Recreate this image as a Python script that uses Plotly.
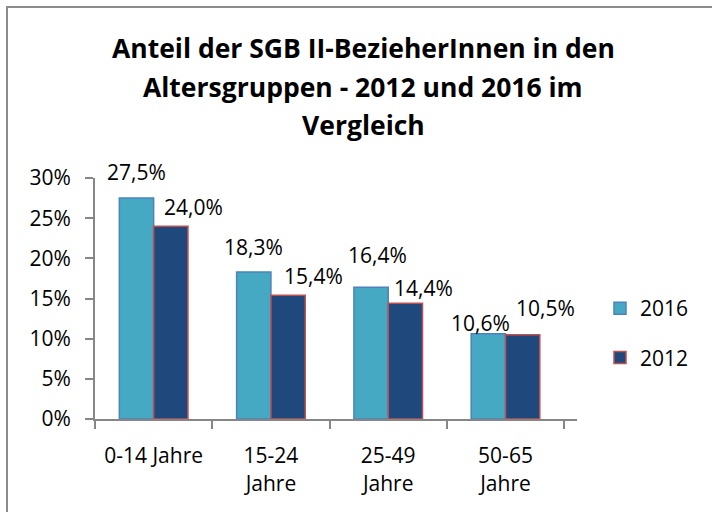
import plotly.graph_objects as go

categories = ["0-14 Jahre", "15-24<br>Jahre", "25-49<br>Jahre", "50-65<br>Jahre"]
values_2016 = [0.275, 0.183, 0.164, 0.106]
values_2012 = [0.240, 0.154, 0.144, 0.105]
labels_2016 = ["27,5%", "18,3%", "16,4%", "10,6%"]
labels_2012 = ["24,0%", "15,4%", "14,4%", "10,5%"]
y_ticks = [0, 0.05, 0.10, 0.15, 0.20, 0.25, 0.30]
y_ticktext = ["0%", "5%", "10%", "15%", "20%", "25%", "30%"]
title_lines = ["Anteil der SGB II-BezieherInnen in den",
               "Altersgruppen - 2012 und 2016 im",
               "Vergleich"]

# label offsets (pixels) relative to the category centre / bar top
xshift_2016 = [-17, -17, -11, -25]
yshift_2016 = [26, 25, 32, 11]
xshift_2012 = [40, 43, 35, 40]
yshift_2012 = [19, 19, 15, 27]

FONT = "Open Sans"
FS = 21
W, H = 712, 512
ML, MR, MT, MB = 95, 135, 178, 93

fig = go.Figure()
fig.add_trace(go.Bar(
    x=categories, y=values_2016, name="2016",
    marker=dict(color="#45A9C3", line=dict(color="#4F81BD", width=1.5)),
    legendgroup="a",
))
fig.add_trace(go.Bar(
    x=categories, y=values_2012, name="2012",
    marker=dict(color="#1F497D", line=dict(color="#C0504D", width=1.5)),
    legendgroup="b",
))

for i, c in enumerate(categories):
    fig.add_annotation(x=c, y=values_2016[i], text=labels_2016[i], showarrow=False,
                       xshift=xshift_2016[i], yshift=yshift_2016[i],
                       yanchor="middle", xanchor="center",
                       font=dict(family=FONT, size=FS, color="black"))
    fig.add_annotation(x=c, y=values_2012[i], text=labels_2012[i], showarrow=False,
                       xshift=xshift_2012[i], yshift=yshift_2012[i],
                       yanchor="middle", xanchor="center",
                       font=dict(family=FONT, size=FS, color="black"))

pw = W - ML - MR
ph = H - MT - MB
def px_x(p):
    return (p - ML) / pw
def px_y(p):
    return (H - MB - p) / ph

# title lines
title_y = [48, 87, 125]
for line, ty in zip(title_lines, title_y):
    fig.add_annotation(xref="paper", yref="paper", x=px_x(363), y=px_y(ty),
                       text="<b>" + line + "</b>", showarrow=False,
                       xanchor="center", yanchor="middle",
                       font=dict(family=FONT, size=26.5, color="black"))

# outer chart border (left and top visible)
fig.add_shape(type="line", xref="paper", yref="paper",
              x0=px_x(7), x1=px_x(7), y0=px_y(6), y1=px_y(520),
              line=dict(color="#8C8C8C", width=2))
fig.add_shape(type="line", xref="paper", yref="paper",
              x0=px_x(6), x1=px_x(720), y0=px_y(7), y1=px_y(7),
              line=dict(color="#8C8C8C", width=2))

fig.update_layout(
    width=W, height=H,
    margin=dict(l=ML, r=MR, t=MT, b=MB, autoexpand=False),
    paper_bgcolor="white", plot_bgcolor="white",
    barmode="group", bargap=0.415, bargroupgap=0,
    font=dict(family=FONT, size=FS, color="black"),
    showlegend=True,
    legend=dict(x=px_x(600), y=px_y(288), xanchor="left", yanchor="top",
                font=dict(family=FONT, size=FS), tracegroupgap=19,
                bgcolor="rgba(0,0,0,0)"),
    xaxis=dict(showline=True, linecolor="#868686", linewidth=2,
               ticks="outside", ticklen=8, tickcolor="#868686", tickwidth=2,
               tickson="boundaries", showgrid=False, zeroline=False,
               ticklabelstandoff=17,
               tickfont=dict(family=FONT, size=FS)),
    yaxis=dict(range=[0, 0.30], tickvals=y_ticks, ticktext=y_ticktext,
               showline=True, linecolor="#868686", linewidth=2,
               ticks="outside", ticklen=8, tickcolor="#868686", tickwidth=2,
               showgrid=False, zeroline=False, ticklabelstandoff=10,
               tickfont=dict(family=FONT, size=FS)),
)

fig.write_html("out.html", config={"displayModeBar": False},
               post_script="document.body.style.margin='0px';")
